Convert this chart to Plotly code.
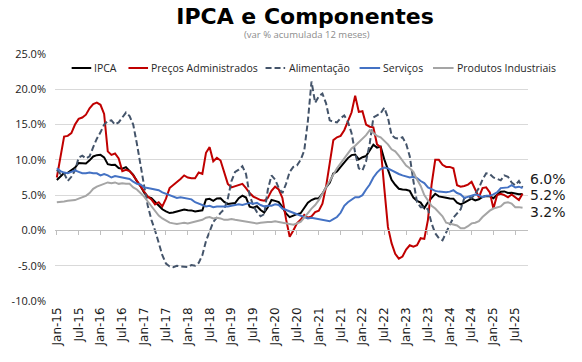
import pandas as pd
import plotly.graph_objects as go

# ---------------- data (12-month accumulated %, Jan-15 .. Sep-25) ----------------
ipca = [
    7.14, 7.70, 8.13, 8.17, 8.47, 8.89, 9.56, 9.53, 9.49, 9.93, 10.48, 10.67,
    10.71, 10.36, 9.39, 9.28, 9.32, 8.84, 8.74, 8.97, 8.48, 7.87, 6.99, 6.29,
    5.35, 4.76, 4.57, 4.08, 3.60, 3.00, 2.71, 2.46, 2.54, 2.70, 2.80, 2.95,
    2.86, 2.84, 2.68, 2.76, 2.86, 4.39, 4.48, 4.19, 4.53, 4.56, 4.05, 3.75,
    3.78, 3.89, 4.58, 4.94, 4.66, 3.37, 3.22, 3.43, 2.89, 2.54, 3.27, 4.31,
    4.19, 4.01, 3.30, 2.40, 1.88, 2.13, 2.31, 2.44, 3.14, 3.92, 4.31, 4.52,
    4.56, 5.20, 6.10, 6.76, 8.06, 8.35, 8.99, 9.68, 10.25, 10.67, 10.74, 10.06,
    10.38, 10.54, 11.30, 12.13, 11.73, 11.89, 10.07, 8.73, 7.17, 6.47, 5.90, 5.79,
    5.77, 5.60, 4.65, 4.18, 3.94, 3.16, 3.99, 4.61, 5.19, 4.82, 4.68, 4.62,
    4.51, 4.50, 3.93, 3.69, 3.93, 4.23, 4.50, 4.24, 4.42, 4.76, 4.87, 4.83,
    4.56, 5.06, 5.48, 5.53, 5.32, 5.35, 5.23, 5.13, 5.17,
]
administrados = [
    7.5, 10.3, 13.3, 13.4, 13.8, 15.0, 15.8, 16.0, 16.4, 17.3, 17.9, 18.1,
    17.8, 16.5, 11.2, 10.7, 10.9, 10.2, 8.4, 8.6, 8.4, 7.8, 7.0, 6.2,
    5.5, 4.8, 4.4, 3.7, 4.0, 3.4, 4.5, 6.0, 6.4, 6.9, 7.3, 7.8,
    7.5, 7.4, 7.4, 8.2, 8.0, 11.0, 11.8, 9.8, 10.3, 9.9, 8.1, 6.6,
    6.1, 6.3, 6.5, 6.6, 6.0, 5.3, 4.8, 4.5, 4.3, 4.2, 4.6, 5.6,
    6.2, 5.8, 4.6, 1.6, -0.9, 0.0, 1.0, 1.5, 2.2, 1.8, 2.0, 2.6,
    2.8, 3.8, 6.2, 9.5, 12.8, 13.2, 13.4, 14.2, 15.6, 16.7, 19.1, 16.8,
    16.9, 15.0, 14.7, 14.6, 12.2, 11.8, 6.0, 0.5, -1.8, -3.3, -4.0, -3.7,
    -2.7, -2.1, -2.3, -2.1, -1.1, -1.2, 1.5, 6.5, 10.0, 10.0, 9.3, 9.0,
    9.0, 8.8, 6.4, 6.2, 6.3, 6.5, 6.9, 5.9, 4.7, 6.0, 6.1, 5.4,
    3.1, 5.0, 5.2, 5.0, 4.7, 5.1, 4.7, 4.3, 5.2,
]
alimentacao = [
    8.6, 8.0, 8.1, 7.0, 7.6, 8.5, 10.3, 10.6, 10.2, 10.5, 11.8, 13.0,
    13.9, 15.0, 15.5, 15.6, 15.0, 15.3, 16.0, 16.7, 16.2, 15.0, 12.3, 9.0,
    6.3, 3.5, 1.5, 0.0, -1.8, -3.5, -4.7, -5.1, -5.2, -5.0, -5.1, -5.2,
    -5.2, -4.9, -5.0, -4.6, -3.5, -1.5, 0.0, 1.2, 1.8, 2.5, 3.0, 4.5,
    7.0, 8.3, 8.6, 9.1, 8.0, 5.0, 3.5, 2.6, 2.0, 2.3, 5.8, 7.8,
    7.2, 6.0, 5.3, 6.6, 8.3, 9.0, 9.2, 10.0, 11.3, 15.5, 21.1, 18.1,
    19.0, 19.4, 18.0, 15.6, 15.4, 15.3, 15.9, 16.3, 15.4, 13.8, 11.0, 8.8,
    8.5, 9.8, 12.3, 16.0, 16.3, 16.6, 17.4, 16.0, 13.5, 13.1, 13.0, 13.2,
    12.3, 10.5, 7.0, 4.0, 3.3, 3.3, 3.0, 1.0, -0.4, -1.1, -1.4, -0.2,
    0.8, 1.8, 2.4, 3.0, 4.6, 4.7, 4.6, 5.2, 6.0, 7.2, 8.1, 8.0,
    7.5, 7.3, 7.1, 7.8, 7.6, 6.8, 6.4, 7.0, 6.1,
]
servicos = [
    8.8, 8.4, 8.2, 8.1, 8.3, 8.5, 8.3, 8.1, 8.1, 8.2, 8.1, 8.1,
    7.8, 8.0, 7.8, 7.5, 7.7, 7.6, 7.4, 7.4, 7.3, 6.9, 6.6, 6.5,
    6.1, 6.0, 5.9, 5.8, 5.7, 5.4, 5.2, 4.9, 4.8, 4.6, 4.7, 4.6,
    4.4, 4.4, 4.0, 3.8, 3.5, 3.4, 3.5, 3.3, 3.4, 3.4, 3.3, 3.4,
    3.5, 3.6, 3.7, 3.6, 3.8, 3.9, 3.8, 3.9, 3.6, 3.4, 3.5, 3.5,
    3.7, 3.6, 3.1, 2.9, 2.6, 2.4, 2.2, 2.0, 1.8, 1.7, 1.8, 1.7,
    1.5, 1.5, 1.3, 1.3, 1.6, 1.9, 2.5, 3.5, 4.0, 4.4, 4.7, 4.7,
    5.0, 5.8, 6.5, 7.5, 8.2, 8.7, 8.9, 8.8, 8.5, 8.3, 8.0, 7.8,
    7.6, 7.5, 7.6, 7.4, 7.0, 6.7, 6.1, 5.8, 5.6, 5.5, 5.4, 5.4,
    5.5, 5.7, 5.3, 5.1, 4.6, 4.8, 5.0, 5.1, 5.0, 4.7, 4.9, 4.9,
    5.1, 5.4, 6.0, 6.0, 6.1, 6.4, 6.1, 6.2, 6.0,
]
industriais = [
    4.0, 4.0, 4.1, 4.2, 4.2, 4.3, 4.5, 4.7, 4.9, 5.3, 5.9, 6.2,
    6.4, 6.6, 6.8, 6.7, 6.8, 6.6, 6.7, 6.6, 6.6, 6.1, 5.8, 5.3,
    4.8, 4.1, 3.4, 2.7, 2.1, 1.7, 1.4, 1.1, 1.0, 0.9, 1.0, 1.1,
    1.0, 1.1, 1.2, 1.3, 1.5, 1.8, 1.9, 1.7, 1.8, 1.7, 1.5, 1.5,
    1.6, 1.5, 1.4, 1.3, 1.3, 1.2, 1.1, 1.0, 1.1, 1.2, 1.2, 1.2,
    1.3, 1.2, 1.1, 0.9, 0.8, 0.8, 1.0, 1.2, 1.8, 2.5, 3.1, 3.6,
    4.3, 5.2, 6.1, 7.2, 8.1, 8.8, 9.5, 10.2, 10.8, 11.6, 12.0, 12.5,
    13.0, 13.5, 14.2, 13.8, 13.4, 13.2, 12.7, 12.2, 11.5, 11.2, 10.6, 9.9,
    9.2, 8.8, 8.3, 7.2, 6.3, 5.0, 4.2, 3.5, 3.1, 2.6, 2.0, 1.1,
    1.0, 0.8, 0.7, 0.3, 0.3, 0.6, 1.0, 1.1, 1.3, 1.9, 2.4, 2.8,
    3.1, 3.2, 3.4, 3.9, 4.0, 3.8, 3.3, 3.3, 3.2,
]

series_names = ["IPCA", "Preços Administrados", "Alimentação", "Serviços", "Produtos Industriais"]
series_values = [ipca, administrados, alimentacao, servicos, industriais]
series_colors = ["#000000", "#c00000", "#44546a", "#4472c4", "#a5a5a5"]
series_dash = ["solid", "solid", "6px,3px", "solid", "solid"]

# category axis: one extra (empty) month at the end, as in the reference
months = pd.date_range("2015-01-01", periods=len(ipca) + 1, freq="MS").strftime("%b-%y").tolist()
tick_labels = months[::6]
y_ticks = [-10, -5, 0, 5, 10, 15, 20, 25]

# ---------------- figure ----------------
W, H = 582, 362
ML, MR, MT, MB = 45, 54, 54, 61
PW = W - ML - MR
PH = H - MT - MB


def px_x(px):
    return (px - ML) / PW


def px_y(py):
    return (H - MB - py) / PH


fig = go.Figure()
for name, vals, col, dash in zip(series_names, series_values, series_colors, series_dash):
    fig.add_trace(go.Scatter(
        x=months[:len(vals)], y=vals, name=name, mode="lines",
        line=dict(color=col, width=2, dash=dash),
        showlegend=False, hoverinfo="skip",
    ))

# invisible helper trace so the zero-line tick axis is drawn
fig.add_trace(go.Scatter(x=[None], y=[None], xaxis="x2", showlegend=False, hoverinfo="skip"))

ymin, ymax = min(y_ticks), max(y_ticks)
fig.update_layout(
    width=W, height=H,
    margin=dict(l=ML, r=MR, t=MT, b=MB),
    paper_bgcolor="white", plot_bgcolor="white",
    title=dict(
        text="<b>IPCA e Componentes</b>",
        font=dict(family="DejaVu Sans", size=22, color="#000000"),
        x=305 / W, xanchor="center", xref="container",
        y=1 - 16.5 / H, yanchor="middle", yref="container",
    ),
    xaxis=dict(
        type="category", categoryorder="array", categoryarray=months,
        range=[-0.5, len(months) - 0.5],
        tickvals=tick_labels, ticktext=tick_labels, tickangle=-90,
        tickfont=dict(family="DejaVu Sans", size=12, color="#1a1a1a"),
        showgrid=False, showline=False, zeroline=False, ticks="",
        ticklabelstandoff=3,
    ),
    xaxis2=dict(
        overlaying="x", anchor="free", position=(0 - ymin) / (ymax - ymin),
        range=[-0.5, len(months) - 0.5], type="linear",
        tickvals=list(range(0, len(months), 6)),
        showticklabels=False, ticks="outside", ticklen=4, tickcolor="#bfbfbf", tickwidth=1,
        showline=True, linecolor="#bfbfbf", linewidth=1, showgrid=False, zeroline=False,
    ),
    yaxis=dict(
        range=[ymin, ymax], tickvals=y_ticks,
        ticktext=[f"{v:.1f}%" for v in y_ticks],
        tickfont=dict(family="Open Sans", size=11, color="#1a1a1a"),
        showgrid=True, gridcolor="#d9d9d9", gridwidth=1,
        zeroline=False, showline=False, ticks="", ticklabelstandoff=8,
    ),
)

# subtitle
fig.add_annotation(
    text="(var % acumulada 12 meses)", xref="paper", yref="paper",
    x=px_x(302), y=px_y(34.5), xanchor="center", yanchor="middle", showarrow=False,
    font=dict(family="Open Sans", size=9.5, color="#8c8c8c"),
)

# legend (manual, to match the reference spacing)
legend_y = px_y(68)
legend_pos = [(62, 82, 83), (120, 140, 141), (260, 280, 282), (356, 377, 378), (431, 452, 453)]
for (x0, x1, xt), name, col, dash in zip(legend_pos, series_names, series_colors, series_dash):
    fig.add_shape(type="line", xref="paper", yref="paper",
                  x0=px_x(x0), x1=px_x(x1), y0=legend_y, y1=legend_y,
                  line=dict(color=col, width=2, dash=dash))
    fig.add_annotation(text=name, xref="paper", yref="paper", x=px_x(xt), y=legend_y,
                       xanchor="left", yanchor="middle", showarrow=False,
                       font=dict(family="Open Sans", size=10.5, color="#262626"))

# end-of-line value labels
end_labels = [(servicos, 9.5), (ipca, -1.5), (industriais, -3.8)]
for vals, ysh in end_labels:
    fig.add_annotation(
        text=f"{vals[-1]:.1f}%", x=months[len(vals) - 1], y=vals[-1],
        xref="x", yref="y", xanchor="left", yanchor="middle",
        xshift=5, yshift=ysh, showarrow=False,
        font=dict(family="DejaVu Sans", size=14, color="#1a1a1a"),
    )

fig.write_html("out.html", config={"displayModeBar": False},
               post_script="document.body.style.margin='0';")
